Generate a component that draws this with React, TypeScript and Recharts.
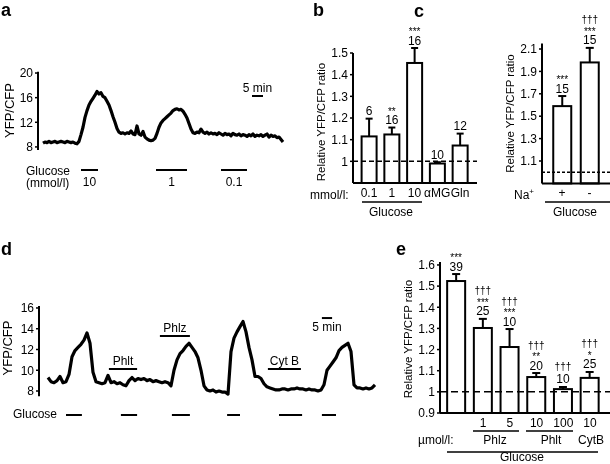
import React from 'react';
import {
  LineChart,
  ComposedChart,
  Line,
  Bar,
  XAxis,
  YAxis,
  ReferenceLine,
} from 'recharts';

const FONT = '"Liberation Sans", Arial, Helvetica, sans-serif';
const PAGE_W = 610;
const PAGE_H = 464;

// ---- panel a: YFP/CFP trace, one sample per time step ----
const TRACE_A = [
  8.6, 8.8, 8.7, 8.9, 8.7, 8.8, 8.9, 8.7, 8.8, 8.9, 8.8, 8.7, 8.9, 8.8, 8.7, 8.8, 8.6, 8.5,
  8.9, 10.0, 11.2, 12.8, 13.9, 14.8, 15.4, 15.9, 16.4, 17.0, 16.6, 16.8,
  16.2, 16.0, 15.4, 14.8, 13.9, 12.9, 12.0, 11.0, 10.4, 10.2,
  10.3, 10.1, 10.3, 10.2, 10.6, 10.1, 10.0, 11.4, 10.1, 9.9,
  10.5, 9.6, 9.3, 9.1, 9.0, 9.1, 9.4, 10.2, 11.2, 11.9,
  12.3, 12.6, 12.9, 13.2, 13.5, 13.9, 14.1, 14.2, 14.0, 14.1,
  13.8, 13.3, 12.7, 11.8, 10.9, 10.3, 10.2, 10.4, 10.3, 10.9,
  10.4, 10.2, 10.4, 10.1, 10.3, 10.1, 10.2, 10.0, 10.3, 10.1,
  9.9, 10.2, 10.0, 10.1, 9.8, 10.2, 10.0, 9.9, 10.1, 9.8,
  10.0, 9.9, 9.7, 10.0, 9.8, 10.1, 9.7, 9.9, 9.8, 10.0,
  9.7, 9.9, 10.1, 9.6, 9.9, 9.7, 9.8, 9.5, 9.6, 9.2, 8.8,
];
const GLUCOSE_A_START = [19, 56.5, 89];
const GLUCOSE_A_END = [27.5, 72, 102];
const GLUCOSE_A_LABELS = ['10', '1', '0.1'];
const SCALEBAR_A = [104.5, 110]; // 5 min

// ---- panel b ----
const B_LABELS = ['0.1', '1', '10', '\u03b1MG', 'Gln'];
const B_MEANS = [1.115, 1.124, 1.454, 0.99, 1.073];
const B_ERRS = [0.082, 0.032, 0.069, 0.006, 0.055];
const B_N = ['6', '16', '16', '10', '12'];
const B_STARS = ['', '**', '***', '', ''];
const B_DAGGERS = ['', '', '', '', ''];
const B_TICKS = [1, 1.1, 1.2, 1.3, 1.4, 1.5];

// ---- panel c ----
const C_LABELS = ['+', '-'];
const C_MEANS = [1.59, 1.98];
const C_ERRS = [0.09, 0.13];
const C_N = ['15', '15'];
const C_STARS = ['***', '***'];
const C_DAGGERS = ['', '\u2020\u2020\u2020'];
const C_TICKS = [1.1, 1.3, 1.5, 1.7, 1.9, 2.1];

// ---- panel d: trace with inhibitors ----
const TRACE_D = [
  9.3, 8.9, 8.8, 9.0, 9.4, 8.8, 8.9, 9.6, 11.3, 11.9,
  12.2, 12.5, 12.9, 13.6, 12.6, 9.8, 8.9, 8.8, 8.7, 8.8,
  9.5, 8.8, 8.9, 8.7, 8.8, 8.6, 8.5, 9.0, 9.3, 9.0,
  9.2, 9.1, 9.2, 9.0, 9.1, 8.9, 9.0, 8.9, 8.8, 8.9,
  8.8, 8.5, 10.0, 11.0, 11.6, 11.9, 12.3, 12.6, 12.2, 11.8,
  11.2, 10.0, 8.5, 8.1, 8.0, 8.1, 7.9, 8.0, 7.9, 7.9,
  7.7, 11.8, 13.1, 13.7, 14.2, 14.7, 13.7, 12.2, 11.0, 9.4,
  9.4, 9.2, 8.7, 8.4, 8.3, 8.2, 8.1, 8.1, 8.2, 8.2,
  8.1, 8.2, 8.2, 8.3, 8.2, 8.2, 8.1, 8.2, 8.1, 8.1,
  8.0, 8.1, 8.6, 10.0, 10.4, 10.8, 11.2, 11.9, 12.2, 12.4,
  12.6, 11.8, 8.6, 8.3, 8.3, 8.2, 8.3, 8.2, 8.3, 8.6,
];
const GLUCOSE_D_START = [6, 24.3, 41.3, 59.7, 77, 91.3];
const GLUCOSE_D_END = [11.3, 29.7, 47.3, 64, 84.7, 96];
const DRUG_D_NAMES = ['Phlt', 'Phlz', 'Cyt B'];
const DRUG_D_START = [20.3, 37.3, 73.3];
const DRUG_D_END = [29.7, 47.3, 84.3];
const DRUG_D_LEVEL = [10.12, 13.3, 10.12];
const SCALEBAR_D = [91.3, 94.7]; // 5 min

// ---- panel e ----
const E_DOSES = ['', '1', '5', '10', '100', '10'];
const E_MEANS = [1.524, 1.302, 1.212, 1.07, 1.013, 1.066];
const E_ERRS = [0.033, 0.043, 0.085, 0.019, 0.01, 0.028];
const E_N = ['39', '25', '10', '20', '10', '25'];
const E_STARS = ['***', '***', '***', '**', '', '*'];
const E_DAGGERS = ['', '\u2020\u2020\u2020', '\u2020\u2020\u2020', '\u2020\u2020\u2020', '\u2020\u2020\u2020', '\u2020\u2020\u2020'];
const E_TICKS = [0.9, 1, 1.1, 1.2, 1.3, 1.4, 1.5, 1.6];

const tickStyle = { fill: '#000', fontSize: 12, fontFamily: FONT };
const axisStroke = { stroke: '#000', strokeWidth: 2 };
const fmtRatio = (v: number) => (Math.abs(v - 1) < 1e-9 ? '1' : v.toFixed(1));

function segLabel(text: string, dy: number) {
  return (props: any) => {
    const vb = props.viewBox || {};
    const x = (vb.x ?? 0) + (vb.width ?? 0) / 2;
    return (
      <text x={x} y={(vb.y ?? 0) + dy} textAnchor="middle" fontSize={12} fontFamily={FONT} fill="#000">
        {text}
      </text>
    );
  };
}

function seg(key: string, from: number, to: number, level: number, text: string, dy: number) {
  return (
    <ReferenceLine
      key={key}
      segment={[{ x: from, y: level }, { x: to, y: level }]}
      ifOverflow="visible"
      stroke="#000"
      strokeWidth={2}
      label={text ? segLabel(text, dy) : undefined}
    />
  );
}

function TraceA() {
  const data = TRACE_A.map((v, i) => ({ t: i, v }));
  return (
    <LineChart width={PAGE_W} height={PAGE_H} data={data}
      margin={{ top: 71.8, left: 0, right: PAGE_W - 283, bottom: PAGE_H - 150 }}>
      <XAxis type="number" dataKey="t" domain={[-2.5, 120]} hide />
      <YAxis width={38} type="number" domain={[7.5, 20.2]} ticks={[8, 12, 16, 20]} interval={0}
        axisLine={axisStroke} tickLine={{ stroke: '#000', strokeWidth: 1.5 }} tickSize={3} tickMargin={2} tick={tickStyle} />
      <Line dataKey="v" stroke="#000" strokeWidth={3.2} strokeLinejoin="round" dot={false} activeDot={false} isAnimationActive={false} />
      {GLUCOSE_A_START.map((s, i) => seg(`ga${i}`, s, GLUCOSE_A_END[i], 4.25, GLUCOSE_A_LABELS[i], 15.5))}
      {seg('sa', SCALEBAR_A[0], SCALEBAR_A[1], 16.27, '5 min', -4)}
    </LineChart>
  );
}

function TraceD() {
  const data = TRACE_D.map((v, i) => ({ t: i, v }));
  return (
    <LineChart width={PAGE_W} height={PAGE_H} data={data}
      margin={{ top: 305.9, left: 0, right: PAGE_W - 375, bottom: PAGE_H - 396.2 }}>
      <XAxis type="number" dataKey="t" domain={[-3, 109]} hide />
      <YAxis width={39} type="number" domain={[7.5, 16.2]} ticks={[8, 10, 12, 14, 16]} interval={0}
        axisLine={axisStroke} tickLine={{ stroke: '#000', strokeWidth: 1.5 }} tickSize={3} tickMargin={2} tick={tickStyle} />
      <Line dataKey="v" stroke="#000" strokeWidth={3.2} strokeLinejoin="round" dot={false} activeDot={false} isAnimationActive={false} />
      {GLUCOSE_D_START.map((s, i) => seg(`gd${i}`, s, GLUCOSE_D_END[i], 5.69, '', 0))}
      {DRUG_D_START.map((s, i) => seg(`dd${i}`, s, DRUG_D_END[i], DRUG_D_LEVEL[i], DRUG_D_NAMES[i], -4.5))}
      {seg('sd', SCALEBAR_D[0], SCALEBAR_D[1], 15.03, '5 min', 13)}
    </LineChart>
  );
}

type BarPanelProps = {
  labels: string[];
  means: number[];
  errs: number[];
  ns: string[];
  stars: string[];
  daggers: string[];
  domain: [number, number];
  ticks: number[];
  plot: { left: number; top: number; right: number; bottom: number };
  width: number;
  barSize: number;
  padLeft: number;
  padRight: number;
  dash: string;
  cap: number;
};

function BarPanel(p: BarPanelProps) {
  const data = p.labels.map((label, i) => ({ label, mean: p.means[i] }));
  const base = p.domain[0];

  // bar outline, one-sided error whisker and the n / significance stack above it
  const shape = (props: any) => {
    const { x, y, width, height, index } = props;
    const ppu = height / (p.means[index] - base);
    const top = y - p.errs[index] * ppu;
    const cx = x + width / 2;
    const star = p.stars[index];
    const dag = p.daggers[index];
    return (
      <g>
        <line x1={cx} x2={cx} y1={y} y2={top} stroke="#000" strokeWidth={2} />
        <line x1={cx - p.cap / 2} x2={cx + p.cap / 2} y1={top} y2={top} stroke="#000" strokeWidth={2} />
        <rect x={x} y={y} width={width} height={height} fill="#fff" stroke="#000" strokeWidth={2} />
        <g fill="#000" stroke="none" fontFamily={FONT} textAnchor="middle">
          <text x={cx} y={top - 3.5} fontSize={12}>{p.ns[index]}</text>
          {star ? <text x={cx} y={top - 13} fontSize={10}>{star}</text> : null}
          {dag ? <text x={cx} y={star ? top - 24.5 : top - 16.5} fontSize={10}>{dag}</text> : null}
        </g>
      </g>
    );
  };

  return (
    <ComposedChart width={p.width} height={PAGE_H} data={data}
      margin={{ top: p.plot.top, left: p.plot.left - 40, right: p.width - p.plot.right, bottom: PAGE_H - p.plot.bottom - 30 }}>
      <XAxis dataKey="label" height={30} tickLine={false} axisLine={axisStroke} tickSize={5} tickMargin={0}
        padding={{ left: p.padLeft, right: p.padRight }} interval={0} tick={tickStyle} />
      <YAxis width={40} type="number" domain={p.domain} ticks={p.ticks} interval={0} tickFormatter={fmtRatio}
        axisLine={axisStroke} tickLine={{ stroke: '#000', strokeWidth: 1.5 }} tickSize={3} tickMargin={2} tick={tickStyle} />
      <Bar dataKey="mean" barSize={p.barSize} shape={shape} isAnimationActive={false} />
      <ReferenceLine y={1} stroke="#000" strokeWidth={1.5} strokeDasharray={p.dash} />
    </ComposedChart>
  );
}

function Rot({ x, y, size, children }: { x: number; y: number; size: number; children: React.ReactNode }) {
  return (
    <text transform={`translate(${x},${y}) rotate(-90)`} textAnchor="middle" dominantBaseline="central" fontSize={size} fill="#000">
      {children}
    </text>
  );
}

function Overlay() {
  const line = { stroke: '#000', strokeWidth: 1.6 };
  return (
    <svg width={PAGE_W} height={PAGE_H} style={{ position: 'absolute', left: 0, top: 0, pointerEvents: 'none' }}
      fontFamily={FONT} fill="#000" fontSize={12}>
      {/* panel letters */}
      <g fontWeight="bold" fontSize={18}>
        <text x={1} y={16}>a</text>
        <text x={313} y={16}>b</text>
        <text x={414} y={17}>c</text>
        <text x={1} y={255}>d</text>
        <text x={396} y={255}>e</text>
      </g>
      {/* a */}
      <Rot x={9.5} y={110.5} size={13}>YFP/CFP</Rot>
      <text x={26} y={175}>Glucose</text>
      <text x={26} y={187}>(mmol/l)</text>
      {/* b */}
      <Rot x={320.5} y={122} size={11.5}>Relative YFP/CFP ratio</Rot>
      <text x={310} y={199}>mmol/l:</text>
      <line x1={362} x2={422} y1={202} y2={202} {...line} />
      <text x={391} y={216} textAnchor="middle">Glucose</text>
      {/* c */}
      <Rot x={509.5} y={113.5} size={11.5}>Relative YFP/CFP ratio</Rot>
      <text x={514} y={199}>Na<tspan dy={-5} fontSize={8}>+</tspan></text>
      <line x1={545} x2={610} y1={202} y2={202} {...line} />
      <text x={575} y={216} textAnchor="middle">Glucose</text>
      {/* d */}
      <Rot x={7.5} y={348} size={13}>YFP/CFP</Rot>
      <text x={13} y={418}>Glucose</text>
      {/* e */}
      <Rot x={407.5} y={339} size={11.5}>Relative YFP/CFP ratio</Rot>
      <text x={418} y={444}>{'\u00b5mol/l:'}</text>
      <line x1={473} x2={519} y1={431} y2={431} {...line} />
      <line x1={526} x2={573} y1={431} y2={431} {...line} />
      <text x={495} y={444} textAnchor="middle">Phlz</text>
      <text x={551} y={444} textAnchor="middle">Phlt</text>
      <text x={591} y={444} textAnchor="middle">CytB</text>
      <line x1={447} x2={598} y1={452} y2={452} {...line} />
      <text x={522} y={461} textAnchor="middle">Glucose</text>
    </svg>
  );
}

const abs: React.CSSProperties = { position: 'absolute', left: 0, top: 0, willChange: 'transform' };

export default function App() {
  return (
    <div style={{ position: 'absolute', left: 0, top: 0, width: PAGE_W, height: PAGE_H, overflow: 'hidden', background: '#fff', fontFamily: FONT }}>
      <div style={abs}><TraceA /></div>
      <div style={abs}><TraceD /></div>
      <div style={abs}>
        <BarPanel labels={B_LABELS} means={B_MEANS} errs={B_ERRS} ns={B_N} stars={B_STARS} daggers={B_DAGGERS}
          domain={[0.9, 1.5]} ticks={B_TICKS} plot={{ left: 353, top: 53, right: 477, bottom: 183 }}
          width={PAGE_W} barSize={15} padLeft={4.6} padRight={5.6} dash="5 3" cap={7} />
      </div>
      <div style={abs}>
        <BarPanel labels={C_LABELS} means={C_MEANS} errs={C_ERRS} ns={C_N} stars={C_STARS} daggers={C_DAGGERS}
          domain={[0.9, 2.15]} ticks={C_TICKS} plot={{ left: 542, top: 43.4, right: 612, bottom: 183.4 }}
          width={620} barSize={18} padLeft={6.25} padRight={8.75} dash="3 2" cap={8} />
      </div>
      <div style={abs}>
        <BarPanel labels={E_DOSES} means={E_MEANS} errs={E_ERRS} ns={E_N} stars={E_STARS} daggers={E_DAGGERS}
          domain={[0.9, 1.614]} ticks={E_TICKS} plot={{ left: 440, top: 262, right: 611, bottom: 413 }}
          width={620} barSize={18} padLeft={3.15} padRight={7.65} dash="7 4" cap={8} />
      </div>
      <div style={abs}><Overlay /></div>
    </div>
  );
}
